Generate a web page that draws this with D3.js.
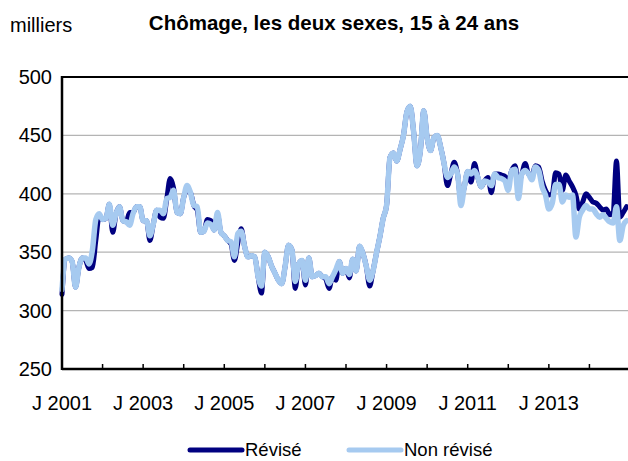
<!DOCTYPE html>
<html><head><meta charset="utf-8">
<script src="https://cdn.jsdelivr.net/npm/d3@7"></script>
<style>body{margin:0;background:#fff}svg{display:block}text{font-family:"Liberation Sans",Arial,sans-serif}</style>
</head><body><svg id="c" width="628" height="461"></svg>
<script>
const startYear = 2001;
const tickLabels = ["J 2001","J 2003","J 2005","J 2007","J 2009","J 2011","J 2013"];
const yTicks = [250,300,350,400,450,500];
const seriesNames = ["Révisé","Non révisé"];
const nonRevise = [318,344,345,342,320,337,345,345,340,352,378,383,378,379,391,373,383,389,377,376,373,383,389,389,
377,377,364,374,386,386,383,396,397,403,384,383,397,407,401,390,389,367,368,375,374,369,384,367,
364,360,359,346,366,368,355,346,347,346,329,321,350,346,338,332,326,323,338,356,352,325,340,343,
326,345,329,330,332,329,329,323,329,335,342,332,336,331,344,334,355,349,338,326,334,349,363,379,
390,431,435,428,438,450,470,475,453,424,437,471,448,437,448,450,440,426,414,417,423,417,390,406,
419,417,420,414,406,411,410,407,417,414,413,411,403,420,421,396,417,420,417,412,423,420,406,399,
387,392,408,408,393,399,397,399,363,380,386,390,387,387,383,380,382,379,376,375,389,360,373,377];
const revise = [314,344,345,342,320,337,345,343,336,337,360,381,378,379,391,367,383,389,377,376,384,384,389,389,
377,377,360,374,386,380,379,396,413,405,384,383,397,403,401,390,386,367,368,378,377,369,382,367,
364,360,357,343,358,370,355,346,347,346,329,315,350,346,338,332,326,323,338,356,352,319,340,343,
322,345,329,330,332,329,327,319,329,326,342,332,336,328,344,334,355,349,338,321,334,349,363,379,
390,431,435,428,438,450,470,475,453,424,437,471,448,437,448,450,440,426,407,417,427,417,395,406,
419,410,426,414,406,411,414,401,417,417,416,415,411,420,424,409,417,426,417,416,424,423,411,403,
399,400,418,417,403,416,411,406,399,387,393,400,397,393,392,389,386,387,382,384,428,380,384,389];

const svg = d3.select("#c");
const x = d3.scaleLinear().domain([0,168]).range([62,630]);
const y = d3.scaleLinear().domain([250,500]).range([369,77]);

// gridlines
svg.append("g").selectAll("line").data(yTicks.filter(v=>v>250&&v<500)).join("line")
  .attr("x1",62).attr("x2",630).attr("y1",d=>y(d)).attr("y2",d=>y(d))
  .attr("stroke","#b4b4b4").attr("stroke-width",1.2);

// y labels
svg.append("g").selectAll("text").data(yTicks).join("text")
  .attr("x",52).attr("y",d=>y(d)+7).attr("text-anchor","end")
  .attr("font-size",20).attr("fill","#000").text(d=>d);

// x ticks
const xt = d3.range(0,169,12);
svg.append("g").selectAll("line").data(xt).join("line")
  .attr("x1",d=>x(d)).attr("x2",d=>x(d)).attr("y1",369).attr("y2",364)
  .attr("stroke","#000").attr("stroke-width",1.5);
svg.append("g").selectAll("text").data(tickLabels).join("text")
  .attr("x",(d,i)=>x(i*24)).attr("y",410).attr("text-anchor","middle")
  .attr("font-size",20).attr("fill","#000").text(d=>d);

const line = d3.line().x((d,i)=>x(i)).y(d=>y(d)).curve(d3.curveMonotoneX);
svg.append("path").datum(revise).attr("d",line).attr("fill","none")
  .attr("stroke","#000080").attr("stroke-width",5).attr("stroke-linejoin","round").attr("stroke-linecap","round");
svg.append("path").datum(nonRevise).attr("d",line).attr("fill","none")
  .attr("stroke","#a6caf0").attr("stroke-width",5.5).attr("stroke-linejoin","round").attr("stroke-linecap","round");

// frame
svg.append("line").attr("x1",62).attr("x2",630).attr("y1",77).attr("y2",77).attr("stroke","#000").attr("stroke-width",2);
svg.append("line").attr("x1",62).attr("x2",630).attr("y1",369).attr("y2",369).attr("stroke","#000").attr("stroke-width",2.5);
svg.append("line").attr("x1",62).attr("x2",62).attr("y1",76).attr("y2",370).attr("stroke","#000").attr("stroke-width",2.5);

// titles
svg.append("text").attr("x",10).attr("y",32).attr("font-size",20).text("milliers");
svg.append("text").attr("x",334).attr("y",30).attr("text-anchor","middle").attr("font-size",20.5)
  .attr("font-weight","bold").text("Chômage, les deux sexes, 15 à 24 ans");

// legend
const lg = svg.append("g");
const lx = [190,349], cols = ["#000080","#a6caf0"];
seriesNames.forEach((n,i)=>{
  lg.append("line").attr("x1",lx[i]).attr("x2",lx[i]+52).attr("y1",450).attr("y2",450)
    .attr("stroke",cols[i]).attr("stroke-width",5).attr("stroke-linecap","round");
  lg.append("text").attr("x",lx[i]+55).attr("y",456).attr("font-size",18.5).text(n);
});
</script></body></html>
